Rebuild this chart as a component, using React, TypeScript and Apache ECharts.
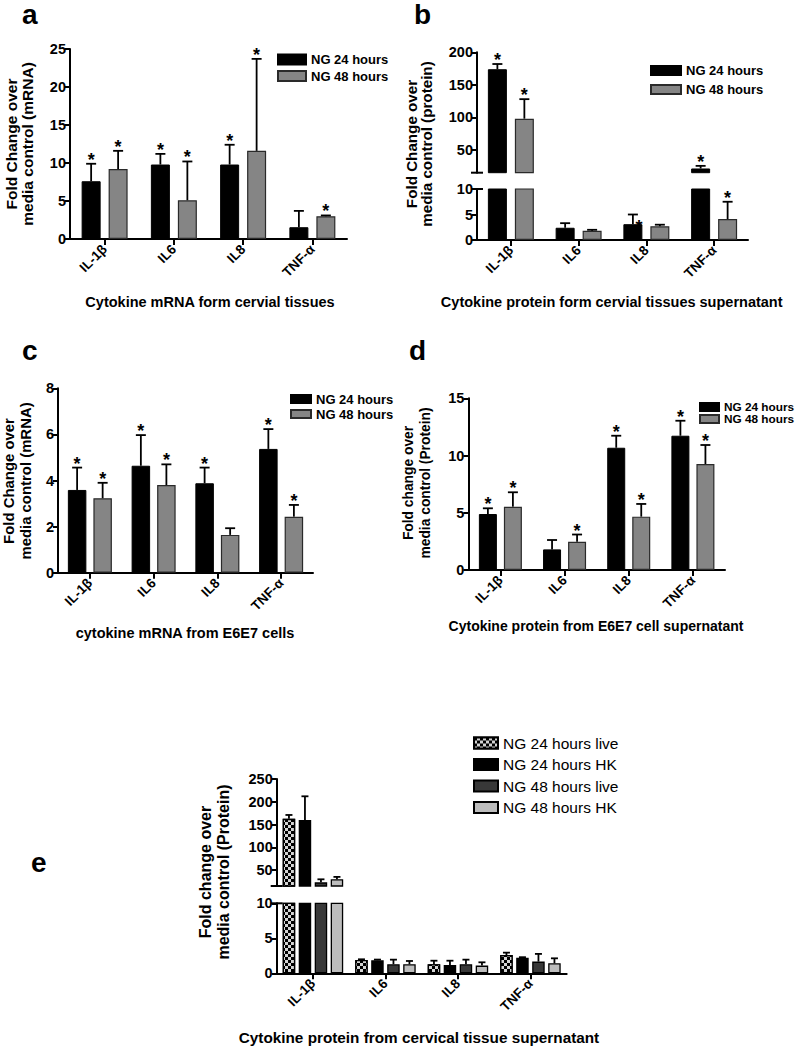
import React, { useEffect, useRef } from 'react';
import * as echarts from 'echarts';

const FONT = '"Liberation Sans", Arial, Helvetica, sans-serif';
const CATEGORIES = ['IL-1β', 'IL6', 'IL8', 'TNF-α'];

// ---- panel a : mRNA, cervical tissues
const A_NG24 = [7.6, 9.8, 9.8, 1.55];
const A_NG24_SEM = [2.3, 1.4, 2.6, 2.15];
const A_NG24_SIG = [1, 1, 1, 0];
const A_NG48 = [9.2, 5.1, 11.6, 3.0];
const A_NG48_SEM = [2.4, 5.1, 12.1, 0.1];
const A_NG48_SIG = [1, 1, 1, 1];
const A_YTICKS = [0, 5, 10, 15, 20, 25];

// ---- panel b : protein, cervical tissue supernatant (broken axis)
const B_NG24 = [174, 2.4, 3.1, 21.5];
const B_NG24_SEM = [8, 0.9, 1.9, 4];
const B_NG24_SIG = [1, 0, 2, 1];
const B_NG48 = [98, 1.8, 2.7, 4.1];
const B_NG48_SEM = [30, 0.2, 0.3, 3.4];
const B_NG48_SIG = [1, 0, 0, 1];
const B_UP_MIN = 15;
const B_UP_TICKS = [50, 100, 150, 200];
const B_LOW_TICKS = [0, 5, 10];

// ---- panel c : mRNA, E6E7 cells
const C_NG24 = [3.59, 4.64, 3.88, 5.37];
const C_NG24_SEM = [0.97, 1.33, 0.68, 0.86];
const C_NG24_SIG = [1, 1, 1, 1];
const C_NG48 = [3.23, 3.8, 1.64, 2.43];
const C_NG48_SEM = [0.67, 0.9, 0.29, 0.51];
const C_NG48_SIG = [1, 1, 0, 1];
const C_YTICKS = [0, 2, 4, 6, 8];

// ---- panel d : protein, E6E7 cell supernatant
const D_NG24 = [4.89, 1.8, 10.68, 11.73];
const D_NG24_SEM = [0.5, 0.82, 1.05, 1.31];
const D_NG24_SIG = [1, 0, 1, 1];
const D_NG48 = [5.53, 2.47, 4.66, 9.26];
const D_NG48_SEM = [1.26, 0.63, 1.11, 1.66];
const D_NG48_SIG = [1, 1, 1, 1];
const D_YTICKS = [0, 5, 10, 15];

// ---- panel e : protein, cervical tissue supernatant, live vs HK (broken axis)
const E_24LIVE = [162.5, 1.9, 1.3, 2.6];
const E_24LIVE_SEM = [8.5, 0.1, 0.5, 0.35];
const E_24HK = [160, 1.86, 1.2, 2.23];
const E_24HK_SEM = [52, 0.1, 0.6, 0.07];
const E_48LIVE = [23, 1.3, 1.3, 1.67];
const E_48LIVE_SEM = [6.7, 0.65, 0.65, 1.1];
const E_48HK = [30, 1.3, 1.1, 1.43];
const E_48HK_SEM = [5, 0.46, 0.47, 0.71];
const E_NOSIG = [0, 0, 0, 0];
const E_UP_MIN = 15;
const E_UP_TICKS = [50, 100, 150, 200, 250];
const E_LOW_TICKS = [0, 5, 10];

const NAME24 = 'NG 24 hours';
const NAME48 = 'NG 48 hours';
const E_NAMES = ['NG 24 hours live', 'NG 24 hours HK', 'NG 48 hours live', 'NG 48 hours HK'];

// ---- layout
const G = {
  a: { left: 70, top: 49, width: 277, height: 190 },
  bUp: { left: 477, top: 52.3, width: 271, height: 120.4 },
  bLow: { left: 477, top: 189, width: 271, height: 51 },
  c: { left: 58, top: 388.3, width: 255, height: 184.4 },
  d: { left: 468.3, top: 398.3, width: 256.7, height: 171.7 },
  eUp: { left: 276.7, top: 779, width: 290, height: 107 },
  eLow: { left: 276.7, top: 903.3, width: 290, height: 70 },
};

const BLACK = { color: '#000', borderColor: '#000', borderWidth: 1 };
const GRAY = { color: '#858585', borderColor: '#2a2a2a', borderWidth: 1.2 };
const E_STYLES = [
  {
    color: '#000', borderColor: '#000', borderWidth: 1.3,
    decal: { symbol: 'rect', symbolSize: 1, color: '#d4d4d4', dashArrayX: [[2.5, 2.5], [0, 2.5, 2.5, 0]], dashArrayY: [2.5, 0], rotation: 0 },
  },
  { color: '#000', borderColor: '#000', borderWidth: 1.3 },
  { color: '#383838', borderColor: '#000', borderWidth: 1.3 },
  { color: '#bdbdbd', borderColor: '#000', borderWidth: 1.3 },
];

type BarDef = { name: string; values: number[]; sem: number[]; sig: number[]; style: any };

function panelSeries(
  xIdx: number, yIdx: number, defs: BarDef[], barW: number, gapRatio: number,
  yMin: number, yMax: number, capHalf: number, errW: number, starSize: number
) {
  const out: any[] = [];
  const n = defs.length;
  defs.forEach((d) => {
    out.push({
      type: 'bar', name: d.name, xAxisIndex: xIdx, yAxisIndex: yIdx, data: d.values,
      barWidth: barW, barGap: gapRatio * 100 + '%', itemStyle: d.style, silent: true, z: 2, clip: true,
    });
  });
  defs.forEach((d, k) => {
    const offset = (k - (n - 1) / 2) * barW * (1 + gapRatio);
    out.push({
      type: 'custom', xAxisIndex: xIdx, yAxisIndex: yIdx, silent: true, z: 5,
      data: d.values.map((v, i) => [i, v, d.sem[i], d.sig[i]]),
      renderItem: (params: any, api: any) => {
        const i = api.value(0);
        const v = api.value(1);
        const s = api.value(2);
        const sig = api.value(3);
        const top = v + s;
        const cx = api.coord([i, yMin])[0] + offset;
        const children: any[] = [];
        const lo = Math.max(v, yMin);
        const hi = Math.min(top, yMax);
        if (hi > lo) {
          const y0 = api.coord([i, lo])[1];
          const y1 = api.coord([i, hi])[1];
          children.push({ type: 'line', shape: { x1: cx, y1: y0, x2: cx, y2: y1 }, style: { stroke: '#000', lineWidth: errW } });
        }
        if (top >= yMin && top <= yMax) {
          const yc = api.coord([i, top])[1];
          children.push({ type: 'line', shape: { x1: cx - capHalf, y1: yc, x2: cx + capHalf, y2: yc }, style: { stroke: '#000', lineWidth: errW } });
          if (sig === 1 || sig === 2) {
            const tx = sig === 1 ? cx : cx + 6;
            const ty = sig === 1 ? yc - 4 : yc + 12;
            children.push({
              type: 'text', x: tx, y: ty,
              style: {
                text: '*', fontSize: starSize, fontWeight: 'bold', fontFamily: FONT, fill: '#000',
                textAlign: 'center', align: 'center', textVerticalAlign: 'middle', verticalAlign: 'middle',
              },
            });
          }
        }
        return { type: 'group', children };
      },
    });
  });
  return out;
}

const axisLineStyle = { show: true, lineStyle: { color: '#000', width: 2 } };

function xAxisOf(gridIndex: number, show = true) {
  return {
    type: 'category', gridIndex, data: CATEGORIES, show,
    axisLine: axisLineStyle,
    axisTick: { show: true, alignWithLabel: true, length: 6, lineStyle: { color: '#000', width: 2 } },
    axisLabel: { interval: 0, rotate: 45, margin: 8, color: '#000', fontSize: 13.5, fontWeight: 'bold', fontFamily: FONT },
    splitLine: { show: false },
  };
}

function yAxisOf(gridIndex: number, min: number, max: number, ticks: number[], fontSize = 14.5) {
  return {
    type: 'value', gridIndex, min, max,
    axisLine: axisLineStyle,
    axisTick: { show: true, length: 5, lineStyle: { color: '#000', width: 2 }, customValues: ticks },
    axisLabel: { color: '#000', fontSize, fontWeight: 'bold', fontFamily: FONT, margin: 4, customValues: ticks },
    splitLine: { show: false },
  };
}

function vText(x: number, y: number, text: string, fontSize: number, lineHeight: number) {
  return {
    type: 'text', x, y, rotation: Math.PI / 2, silent: true,
    style: {
      text, fontSize, fontWeight: 'bold', fontFamily: FONT, fill: '#000', lineHeight,
      textAlign: 'center', align: 'center', textVerticalAlign: 'middle', verticalAlign: 'middle',
    },
  };
}

function hText(x: number, y: number, text: string, fontSize: number, align = 'center') {
  return {
    type: 'text', x, y, silent: true,
    style: {
      text, fontSize, fontWeight: 'bold', fontFamily: FONT, fill: '#000',
      textAlign: align, align, textVerticalAlign: 'middle', verticalAlign: 'middle',
    },
  };
}

function capLine(x: number, y: number) {
  return { type: 'line', silent: true, shape: { x1: x - 6, y1: y, x2: x + 6, y2: y }, style: { stroke: '#000', lineWidth: 2 } };
}

function legendOf(data: string[], left: number, top: number, iw: number, ih: number, gap: number, fs: number, weight = 'bold') {
  return {
    data, left, top, orient: 'vertical', icon: 'rect', itemWidth: iw, itemHeight: ih, itemGap: gap,
    selectedMode: false, padding: 0,
    textStyle: { fontSize: fs, fontWeight: weight, fontFamily: FONT, color: '#000' },
  };
}

function buildOption() {
  const grids = [G.a, G.bUp, G.bLow, G.c, G.d, G.eUp, G.eLow].map((g) => ({ ...g, outerBoundsMode: 'none', containLabel: false }));

  const xAxis = [
    xAxisOf(0), xAxisOf(1, false), xAxisOf(2), xAxisOf(3), xAxisOf(4), xAxisOf(5, false), xAxisOf(6),
  ];
  const yAxis = [
    yAxisOf(0, A_YTICKS[0], A_YTICKS[A_YTICKS.length - 1], A_YTICKS),
    yAxisOf(1, B_UP_MIN, B_UP_TICKS[B_UP_TICKS.length - 1], B_UP_TICKS),
    yAxisOf(2, B_LOW_TICKS[0], B_LOW_TICKS[B_LOW_TICKS.length - 1], B_LOW_TICKS),
    yAxisOf(3, C_YTICKS[0], C_YTICKS[C_YTICKS.length - 1], C_YTICKS),
    yAxisOf(4, D_YTICKS[0], D_YTICKS[D_YTICKS.length - 1], D_YTICKS),
    yAxisOf(5, E_UP_MIN, E_UP_TICKS[E_UP_TICKS.length - 1], E_UP_TICKS),
    yAxisOf(6, E_LOW_TICKS[0], E_LOW_TICKS[E_LOW_TICKS.length - 1], E_LOW_TICKS),
  ];

  const aDefs: BarDef[] = [
    { name: NAME24, values: A_NG24, sem: A_NG24_SEM, sig: A_NG24_SIG, style: BLACK },
    { name: NAME48, values: A_NG48, sem: A_NG48_SEM, sig: A_NG48_SIG, style: GRAY },
  ];
  const bDefs: BarDef[] = [
    { name: NAME24, values: B_NG24, sem: B_NG24_SEM, sig: B_NG24_SIG, style: BLACK },
    { name: NAME48, values: B_NG48, sem: B_NG48_SEM, sig: B_NG48_SIG, style: GRAY },
  ];
  const cDefs: BarDef[] = [
    { name: NAME24, values: C_NG24, sem: C_NG24_SEM, sig: C_NG24_SIG, style: BLACK },
    { name: NAME48, values: C_NG48, sem: C_NG48_SEM, sig: C_NG48_SIG, style: GRAY },
  ];
  const dDefs: BarDef[] = [
    { name: NAME24, values: D_NG24, sem: D_NG24_SEM, sig: D_NG24_SIG, style: BLACK },
    { name: NAME48, values: D_NG48, sem: D_NG48_SEM, sig: D_NG48_SIG, style: GRAY },
  ];
  const eDefs: BarDef[] = [
    { name: E_NAMES[0], values: E_24LIVE, sem: E_24LIVE_SEM, sig: E_NOSIG, style: E_STYLES[0] },
    { name: E_NAMES[1], values: E_24HK, sem: E_24HK_SEM, sig: E_NOSIG, style: E_STYLES[1] },
    { name: E_NAMES[2], values: E_48LIVE, sem: E_48LIVE_SEM, sig: E_NOSIG, style: E_STYLES[2] },
    { name: E_NAMES[3], values: E_48HK, sem: E_48HK_SEM, sig: E_NOSIG, style: E_STYLES[3] },
  ];

  const series = [
    ...panelSeries(0, 0, aDefs, 19, 0.42, 0, 25, 5, 1.8, 18),
    ...panelSeries(1, 1, bDefs, 19, 0.42, B_UP_MIN, 200, 5, 1.8, 18),
    ...panelSeries(2, 2, bDefs, 19, 0.42, 0, 10, 5, 1.8, 18),
    ...panelSeries(3, 3, cDefs, 18.5, 0.38, 0, 8, 5, 1.8, 18),
    ...panelSeries(4, 4, dDefs, 18, 0.39, 0, 15, 5, 1.8, 18),
    ...panelSeries(5, 5, eDefs, 12.5, 0.28, E_UP_MIN, 250, 3.5, 1.8, 15),
    ...panelSeries(6, 6, eDefs, 12.5, 0.28, 0, 10, 3.5, 1.8, 15),
  ];

  const graphic = [
    hText(22, 14, 'a', 28, 'left'),
    hText(414, 14, 'b', 28, 'left'),
    hText(22, 350, 'c', 28, 'left'),
    hText(409, 350, 'd', 28, 'left'),
    hText(31, 862, 'e', 28, 'left'),
    vText(19, 144, 'Fold Change over\nmedia control (mRNA)', 15.5, 16),
    vText(419, 144, 'Fold Change over\nmedia control (protein)', 15.2, 15),
    vText(17.5, 481, 'Fold Change over\nmedia control (mRNA)', 14.9, 17),
    vText(417, 483, 'Fold change over\nmedia control (Protein)', 13.8, 17),
    vText(214.5, 872, 'Fold change over\nmedia control (Protein)', 16, 18),
    hText(210, 302, 'Cytokine mRNA form cervial tissues', 14.5),
    hText(611.7, 302, 'Cytokine protein form cervial tissues supernatant', 14.5),
    hText(185, 633.3, 'cytokine mRNA from E6E7 cells', 14.5),
    hText(596, 626, 'Cytokine protein from E6E7 cell supernatant', 14),
    hText(419, 1037, 'Cytokine protein from cervical tissue supernatant', 15.3),
    capLine(G.bUp.left, G.bUp.top + G.bUp.height),
    capLine(G.bLow.left, G.bLow.top),
    capLine(G.eUp.left, G.eUp.top + G.eUp.height),
    capLine(G.eLow.left, G.eLow.top),
  ];

  const legend = [
    legendOf([NAME24, NAME48], 277, 53, 28, 10, 3.5, 13),
    legendOf([NAME24, NAME48], 650, 64, 30, 9, 6, 13),
    legendOf([NAME24, NAME48], 290, 392.5, 20, 8, 2, 13),
    legendOf([NAME24, NAME48], 699, 401, 19, 8, 0, 11.8),
    legendOf(E_NAMES, 473, 735, 24, 11, 5.5, 15.5, 'normal'),
  ];

  return {
    animation: false,
    backgroundColor: '#fff',
    grid: grids,
    xAxis,
    yAxis,
    legend,
    series,
    graphic,
    tooltip: { show: false },
  };
}

export default function App() {
  const ref = useRef<HTMLDivElement>(null);
  useEffect(() => {
    if (!ref.current) return;
    const chart = echarts.init(ref.current, undefined, { renderer: 'svg' });
    chart.setOption(buildOption() as any);
    return () => chart.dispose();
  }, []);
  return <div ref={ref} style={{ position: 'absolute', left: 0, top: 0, width: 800, height: 1046 }} />;
}
